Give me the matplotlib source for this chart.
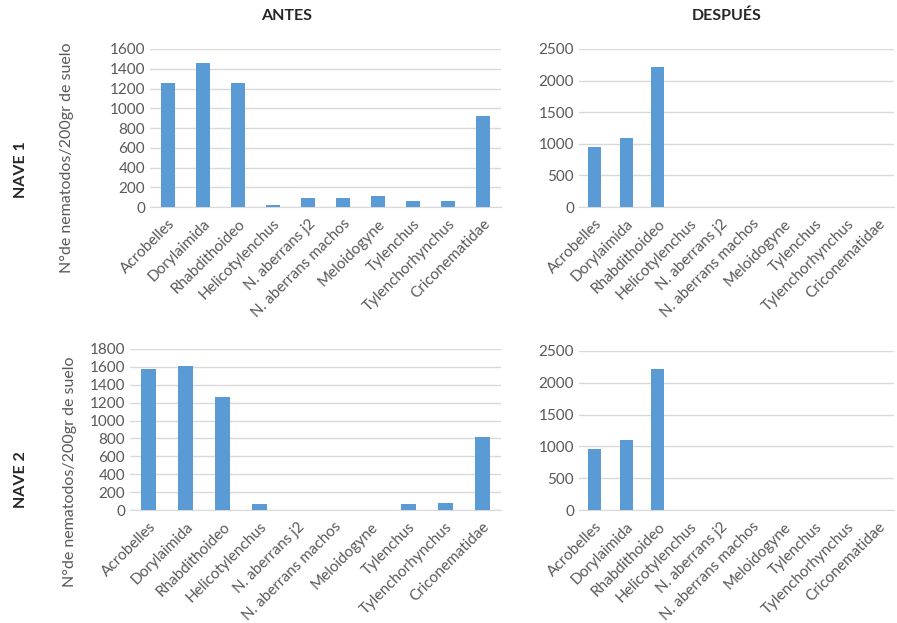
import numpy as np
import matplotlib.pyplot as plt

# Nematode counts per 200 g of soil
categories = ["Acrobelles", "Dorylaimida", "Rhabdithoideo", "Helicotylenchus",
              "N. aberrans j2", "N. aberrans machos", "Meloidogyne", "Tylenchus",
              "Tylenchorhynchus", "Criconematidae"]
nave1_antes = [1260, 1460, 1260, 20, 90, 90, 115, 60, 60, 920]
nave1_despues = [950, 1090, 2210, 0, 0, 0, 0, 0, 0, 0]
nave2_antes = [1580, 1610, 1260, 70, 0, 0, 0, 70, 80, 815]
nave2_despues = [960, 1100, 2210, 0, 0, 0, 0, 0, 0, 0]

plt.rcParams["font.family"] = ["Lato", "DejaVu Sans"]
W, H = 897, 623
BAR = "#5B9BD5"
TXT = "#595959"
GRID = "#D9D9D9"

fig = plt.figure(figsize=(W / 100, H / 100), dpi=100)


def panel(x0, x1, ytop, ybot, values, ymax, step):
    ax = fig.add_axes([x0 / W, 1 - ybot / H, (x1 - x0) / W, (ybot - ytop) / H])
    x = np.arange(len(categories))
    ax.bar(x, values, width=0.4, color=BAR, zorder=3)
    ax.set_xlim(-0.5, len(categories) - 0.5)
    ax.set_ylim(0, ymax)
    ax.set_yticks(np.arange(0, ymax + 1, step))
    ax.set_xticks(x)
    ax.set_xticklabels(categories, rotation=45, ha="right", rotation_mode="anchor")
    ax.tick_params(length=0, colors=TXT, labelsize=11)
    ax.tick_params(axis="x", pad=7)
    ax.grid(axis="y", color=GRID, lw=1, zorder=0)
    for s in ["top", "right", "left"]:
        ax.spines[s].set_visible(False)
    ax.spines["bottom"].set_color(GRID)
    return ax


ax1 = panel(150, 501, 49, 207, nave1_antes, 1600, 200)
ax2 = panel(579, 894, 49, 207, nave1_despues, 2500, 500)
ax3 = panel(130, 501, 349, 510, nave2_antes, 1800, 200)
ax4 = panel(579, 894, 351, 510, nave2_despues, 2500, 500)

ylab = "N°de nematodos/200gr de suelo"
fig.text(67 / W, 1 - 158 / H, ylab, rotation=90, ha="center", va="center", color=TXT, fontsize=11.5)
fig.text(70 / W, 1 - 472 / H, ylab, rotation=90, ha="center", va="center", color=TXT, fontsize=11.5)

fig.text(287 / W, 1 - 16 / H, "ANTES", ha="center", va="center", fontsize=11.5, fontweight="bold", color="#262626")
fig.text(727 / W, 1 - 16 / H, "DESPUÉS", ha="center", va="center", fontsize=11.5, fontweight="bold", color="#262626")
fig.text(21 / W, 1 - 170 / H, "NAVE 1", rotation=90, ha="center", va="center", fontsize=11.5, fontweight="bold", color="#262626")
fig.text(21 / W, 1 - 480 / H, "NAVE 2", rotation=90, ha="center", va="center", fontsize=11.5, fontweight="bold", color="#262626")

fig.savefig("out.png", dpi=100)
